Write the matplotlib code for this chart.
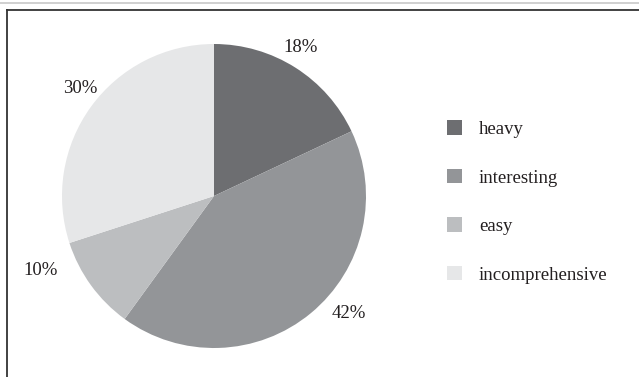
import matplotlib.pyplot as plt
from matplotlib.lines import Line2D
from matplotlib.patches import Patch

# 데이터
labels = ['heavy', 'interesting', 'easy', 'incomprehensive']
values = [18, 42, 10, 30]
colors = ['#6d6e71', '#939598', '#bcbec0', '#e6e7e8']
pct_labels = ['18%', '42%', '10%', '30%']

plt.rcParams['font.family'] = ['Liberation Serif', 'DejaVu Serif']

fig = plt.figure(figsize=(6.39, 3.77), dpi=100)

# 파이 그리기
ax = fig.add_axes([62 / 639, 29 / 377, 304 / 639, 304 / 377])
wedges, _ = ax.pie(values, colors=colors, startangle=90, counterclock=False,
                   radius=1, wedgeprops=dict(linewidth=0))
ax.set_xlim(-1, 1)
ax.set_ylim(-1, 1)
ax.set_aspect('equal')
ax.axis('off')

# 퍼센트 라벨 위치
label_pos = [(0.57, 0.98), (0.89, -0.77), (-1.14, -0.49), (-0.88, 0.71)]
for txt, (x, y) in zip(pct_labels, label_pos):
    ax.text(x, y, txt, ha='center', va='center', fontsize=13.5, color='#231f20',
            clip_on=False)

# 범례
handles = [Patch(facecolor=c, edgecolor='none') for c in colors]
fig.legend(handles, labels, loc='center left', bbox_to_anchor=(447 / 639, 1 - 202 / 377),
           frameon=False, fontsize=13.5, handlelength=0.78, handleheight=0.78,
           labelspacing=1.65, handletextpad=0.93, borderpad=0, borderaxespad=0,
           labelcolor='#231f20')

# 테두리
fig.add_artist(Line2D([0, 1], [1 - 2.5 / 377, 1 - 2.5 / 377], color='#c8c8c8', lw=1.2))
fig.add_artist(Line2D([6.5 / 639, 1], [1 - 9.5 / 377, 1 - 9.5 / 377], color='#333333', lw=1.3))
fig.add_artist(Line2D([6.5 / 639, 6.5 / 639], [0, 1 - 9.5 / 377], color='#333333', lw=1.3))

fig.savefig('out.png', dpi=100)
